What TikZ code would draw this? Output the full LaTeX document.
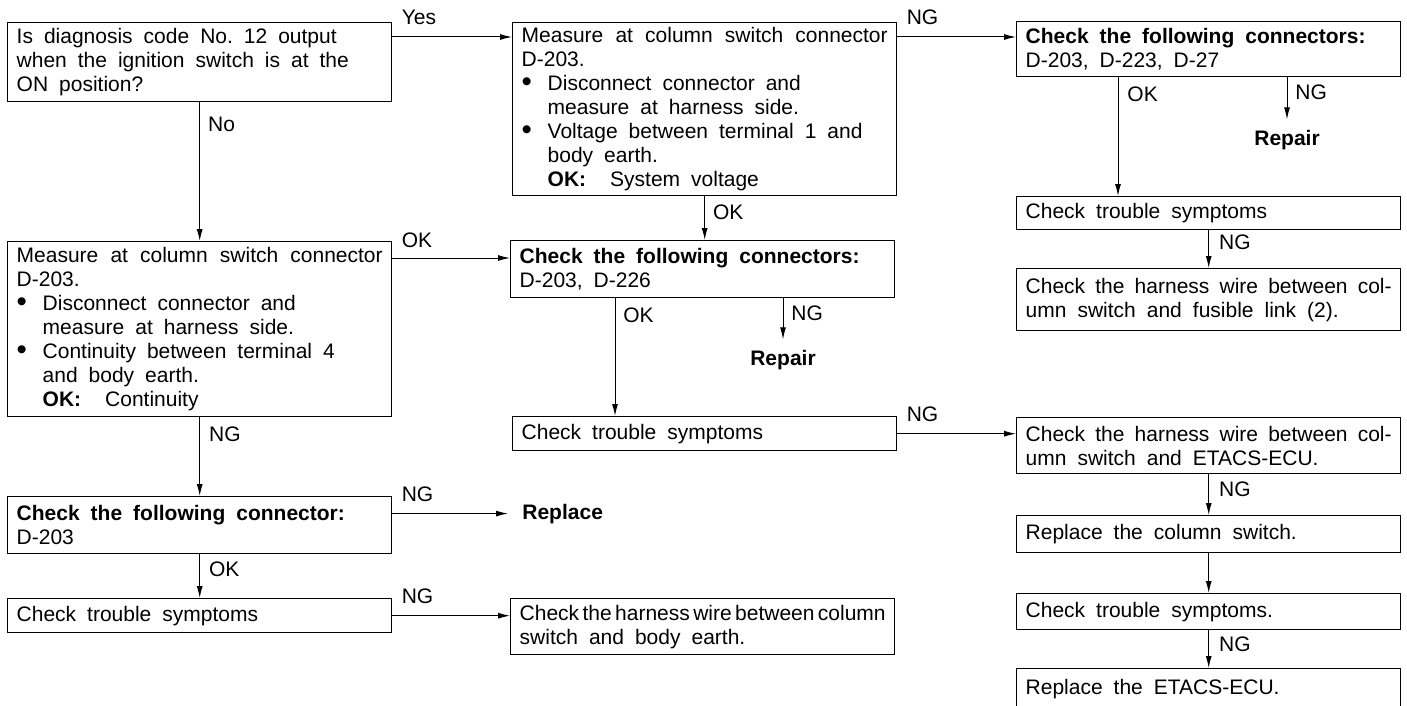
\documentclass[tikz,border=0pt]{standalone}
\usepackage{fontspec}
\setmainfont{Liberation Sans}
\usetikzlibrary{arrows.meta,calc}
\newcommand{\bul}{\makebox[13pt][l]{\raisebox{-0.3pt}{\scalebox{1.4}{\textbullet}}}}
\newcommand{\ind}{\hspace*{13pt}}
\newcommand{\txtfont}{\fontsize{10.5}{12}\selectfont\frenchspacing\spaceskip=5.5pt plus 6pt minus 2pt\relax}
\begin{document}
\begin{tikzpicture}[x=0.5pt,y=-0.5pt,
  bx/.style={draw, line width=0.7pt, anchor=north west, inner xsep=4.5pt, inner ysep=0pt,
    text width=183pt, align=justify, font=\txtfont, minimum height=#1},
  arr/.style={line width=0.5pt, -{Latex[length=6pt,width=3pt]}},
  lab/.style={font=\txtfont, inner sep=0pt, anchor=base west},
  res/.style={font=\txtfont\bfseries, inner xsep=0pt, inner ysep=5pt, anchor=base}]
\useasboundingbox (0,0) rectangle (1407,706);
\clip (0,0) rectangle (1407,706);

% boxes
\node[bx=39.5pt] (A) at (7,22) {Is diagnosis code No. 12 output\\ when the ignition switch is at the\\ ON position?};
\node[bx=86.5pt] (B) at (512,22) {Measure at column switch connector\linebreak D-203.\\ \bul Disconnect connector and\\ \ind measure at harness side.\\ \bul Voltage between terminal 1 and\\ \ind body earth.\\ \ind\textbf{OK:}\hspace{12pt}System voltage};
\node[bx=27.5pt] (C) at (1016,21) {\textbf{Check the following connectors:}\\ D-203, D-223, D-27};
\node[bx=87.5pt] (D) at (7,241) {Measure at column switch connector\linebreak D-203.\\ \bul Disconnect connector and\\ \ind measure at harness side.\\ \bul Continuity between terminal 4\\ \ind and body earth.\\ \ind\textbf{OK:}\hspace{12pt}Continuity};
\node[bx=28.5pt] (E) at (510,240) {\textbf{Check the following connectors:}\\ D-203, D-226};
\node[bx=17pt] (F) at (512,416) {Check trouble symptoms};
\node[bx=28.5pt] (G) at (7,496) {\textbf{Check the following connector:}\\ D-203};
\node[bx=17pt] (H) at (7,598) {Check trouble symptoms};
\node[bx=28pt] (I) at (510,598) {\spaceskip=2.5pt plus 3pt minus 1pt\relax Check the harness wire between column\linebreak \spaceskip=5.5pt plus 6pt minus 2pt\relax switch and body earth.};
\node[bx=16.5pt] (J) at (1016,196) {Check trouble symptoms};
\node[bx=31pt] (K) at (1016,268) {Check the harness wire between col-\linebreak umn switch and fusible link (2).};
\node[bx=28pt] (L) at (1016,417) {Check the harness wire between col-\linebreak umn switch and ETACS-ECU.};
\node[bx=18.5pt] (M) at (1016,515) {Replace the column switch.};
\node[bx=18pt] (N) at (1016,593) {Check trouble symptoms.};
\node[bx=20pt] (O) at (1016,668) {Replace the ETACS-ECU.};

% result texts
\node[res] (Rp1) at (1287,145) {Repair};
\node[res] (Rp2) at (783,365) {Repair};
\node[font=\txtfont\bfseries, inner xsep=7pt, inner ysep=0pt, anchor=base west] (Rpl) at (508,519) {Replace};

% connectors
\draw[arr] ($(A.north east)+(0,15)$) coordinate (ab) -- (ab -| B.west);
\node[lab] (lYes) at ($(ab)+(9,-12)$) {Yes};
\draw[arr] (A.south) -- (D.north);
\node[lab] (lNo) at ($(A.south)+(8,29)$) {No};
\draw[arr] ($(B.north east)+(0,15)$) coordinate (bc) -- (bc -| C.west);
\node[lab] (lbc) at ($(bc)+(9,-12)$) {NG};
\draw[arr] (B.south) -- (B.south |- E.north);
\node[lab] (lbe) at ($(B.south)+(8,23)$) {OK};
\draw[arr] ($(C.south west)+(102,0)$) coordinate (cj) -- (cj |- J.north);
\node[lab] (lcj) at ($(cj)+(9,24)$) {OK};
\draw[arr] (Rp1.north |- C.south) coordinate (cr) -- (Rp1.north);
\node[lab] (lcr) at ($(cr)+(8,22)$) {NG};
\draw[arr] (J.south) -- (K.north);
\node[lab] (ljk) at ($(J.south)+(10,19)$) {NG};
\draw[arr] ($(D.north east)+(0,17)$) coordinate (de) -- (de -| E.west);
\node[lab] (lde) at ($(de)+(9,-11)$) {OK};
\draw[arr] ($(E.south west)+(105,0)$) coordinate (ef) -- (ef |- F.north);
\node[lab] (lef) at ($(ef)+(8,24)$) {OK};
\draw[arr] (Rp2.north |- E.south) coordinate (er) -- (Rp2.north);
\node[lab] (ler) at ($(er)+(8,22)$) {NG};
\draw[arr] (F.east) -- (F.east -| L.west);
\node[lab] (lfl) at ($(F.east)+(9,-12)$) {NG};
\draw[arr] (D.south) -- (G.north);
\node[lab] (ldg) at ($(D.south)+(9,24)$) {NG};
\draw[arr] (G.east |- Rpl.west) coordinate (gr) -- (Rpl.west);
\node[lab] (lgr) at ($(gr)+(9,-12)$) {NG};
\draw[arr] (G.south) -- (H.north);
\node[lab] (lgh) at ($(G.south)+(9,22)$) {OK};
\draw[arr] (H.east) -- (H.east -| I.west);
\node[lab] (lhi) at ($(H.east)+(9,-12)$) {NG};
\draw[arr] (L.south) -- (M.north);
\node[lab] (llm) at ($(L.south)+(10,22)$) {NG};
\draw[arr] (M.south) -- (N.north);
\draw[arr] (N.south) -- (O.north);
\node[lab] (lno) at ($(N.south)+(10,21)$) {NG};
\end{tikzpicture}
\end{document}
